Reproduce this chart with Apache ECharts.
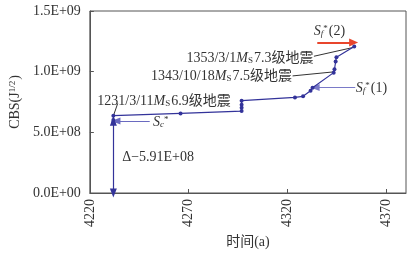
<!DOCTYPE html>
<html><head><meta charset="utf-8">
<script src="https://cdn.jsdelivr.net/npm/echarts@6/dist/echarts.min.js"></script>
<style>html,body{margin:0;padding:0;background:#fff}#c{width:415px;height:254px}</style>
</head><body><div id="c"></div>
<script>
var years = [4231.9, 4231.9, 4231.9, 4265.9, 4296.8, 4296.8, 4296.8, 4296.8, 4323.8, 4327.9, 4331.7, 4332.7, 4343.4, 4343.8, 4344.4, 4344.8, 4353.8];
var cbs = [5.83e8, 6.02e8, 6.37e8, 6.56e8, 6.75e8, 7.02e8, 7.28e8, 7.61e8, 7.88e8, 7.97e8, 8.43e8, 8.67e8, 9.92e8, 1.020e9, 1.083e9, 1.119e9, 1.207e9];
var xTicks = [4220, 4270, 4320, 4370];
var yTicks = [0, 5e8, 1e9, 1.5e9];
var yTickLabels = ['0.0E+00', '5.0E+08', '1.0E+09', '1.5E+09'];
var dropYear = 4231.9;
var drop = 5.91e8;

var font = "'Liberation Serif','Noto Sans CJK SC',serif";
var blue = '#33339a';
var rich = {
    i: {fontStyle: 'italic', fontSize: 14, fontFamily: font, color: '#333'},
    sub: {fontSize: 9, fontFamily: font, color: '#333', verticalAlign: 'bottom', padding: [4, 1, 0, 0]},
    isub: {fontSize: 9, fontStyle: 'italic', fontFamily: font, color: '#333', verticalAlign: 'bottom', padding: [4, 0, 0, 0]},
    sup: {fontSize: 9, fontFamily: font, color: '#333', verticalAlign: 'top', padding: [0, 1, 4, 0]}
};

var pts = [];
for (var i = 0; i < years.length; i++) {
    pts.push([years[i], cbs[i]]);
}

function note(x, y, text, pos) {
    return {coord: [x, y], value: text, label: {position: pos, distance: 0, formatter: text}};
}
function seg(a, b, color, width, syms, size) {
    return [
        {coord: a, symbol: syms[0], symbolSize: size, lineStyle: {color: color, width: width, type: 'solid'}, itemStyle: {color: color}},
        {coord: b, symbol: syms[1], symbolSize: size}
    ];
}

var chart = echarts.init(document.getElementById('c'));
var option = {
    animation: false,
    grid: {left: 88, right: 9, top: 11, bottom: 57, show: true, borderColor: '#555', borderWidth: 1},
    xAxis: {
        type: 'value', min: 4220, max: 4380,
        name: '时间(a)', nameLocation: 'middle', nameGap: 42,
        nameTextStyle: {fontFamily: font, fontSize: 14, color: '#333'},
        axisLine: {lineStyle: {color: '#555'}},
        axisTick: {inside: true, length: 4, lineStyle: {color: '#555'}, customValues: xTicks},
        axisLabel: {
            rotate: 90, margin: 6, fontFamily: font, fontSize: 14, color: '#333', customValues: xTicks,
            formatter: function (v) { return String(v); }
        },
        splitLine: {show: false}
    },
    yAxis: {
        type: 'value', min: 0, max: 1.5e9, interval: 5e8,
        name: 'CBS(J{sup|1/2})', nameLocation: 'middle', nameGap: 63,
        nameTextStyle: {fontFamily: font, fontSize: 14, color: '#333', rich: rich},
        axisLine: {lineStyle: {color: '#555'}},
        axisTick: {inside: true, length: 4, lineStyle: {color: '#555'}},
        axisLabel: {
            margin: 9, fontFamily: font, fontSize: 14, color: '#333',
            formatter: function (v) { return yTickLabels[yTicks.indexOf(v)]; }
        },
        splitLine: {show: false}
    },
    series: [{
        type: 'line',
        data: pts,
        symbol: 'circle', symbolSize: 4,
        lineStyle: {color: blue, width: 1.2},
        itemStyle: {color: blue},
        z: 5,
        markLine: {
            silent: true,
            label: {show: false},
            data: [
                seg([dropYear, 0], [dropYear, drop], blue, 1.2, ['triangle', 'triangle'], [7, 9]),
                seg([4250.3, 5.94e8], [4233.2, 5.94e8], '#6a6ac0', 1.2, ['none', 'triangle'], [7, 9]),
                seg([4354.3, 8.69e8], [4334.0, 8.69e8], '#7a7ac8', 1.2, ['none', 'triangle'], [7, 9]),
                seg([4335.1, 1.24e9], [4353.5, 1.24e9], '#e8452c', 2, ['none', 'triangle'], [8, 9]),
                seg([4234.1, 7.38e8], [4232.0, 6.4e8], '#333', 1, ['none', 'none'], 0),
                seg([4322.6, 9.65e8], [4343.2, 9.98e8], '#333', 1, ['none', 'none'], 0),
                seg([4333.4, 1.127e9], [4353.4, 1.2e9], '#333', 1, ['none', 'none'], 0)
            ]
        },
        markPoint: {
            silent: true,
            symbol: 'circle', symbolSize: 1,
            itemStyle: {color: 'rgba(0,0,0,0)'},
            label: {show: true, fontFamily: font, fontSize: 14, color: '#333', rich: rich},
            data: [
                note(4223.5, 7.56e8, '1231/3/11{i|M}{sub|S}6.9级地震', 'right'),
                note(4322.5, 9.65e8, '1343/10/18{i|M}{sub|S}7.5级地震', 'left'),
                note(4333.4, 1.11e9, '1353/3/1{i|M}{sub|S}7.3级地震', 'left'),
                note(4251.7, 5.81e8, '{i|S}{isub|c}{sup|*}', 'right'),
                note(4354.3, 8.63e8, '{i|S}{isub|f}{sup|*}(1)', 'right'),
                note(4341.3, 1.333e9, '{i|S}{isub|f}{sup|*}(2)', 'inside'),
                note(4236.1, 2.93e8, 'Δ−5.91E+08', 'right')
            ]
        }
    }]
};
chart.setOption(option);
</script>
</body></html>
